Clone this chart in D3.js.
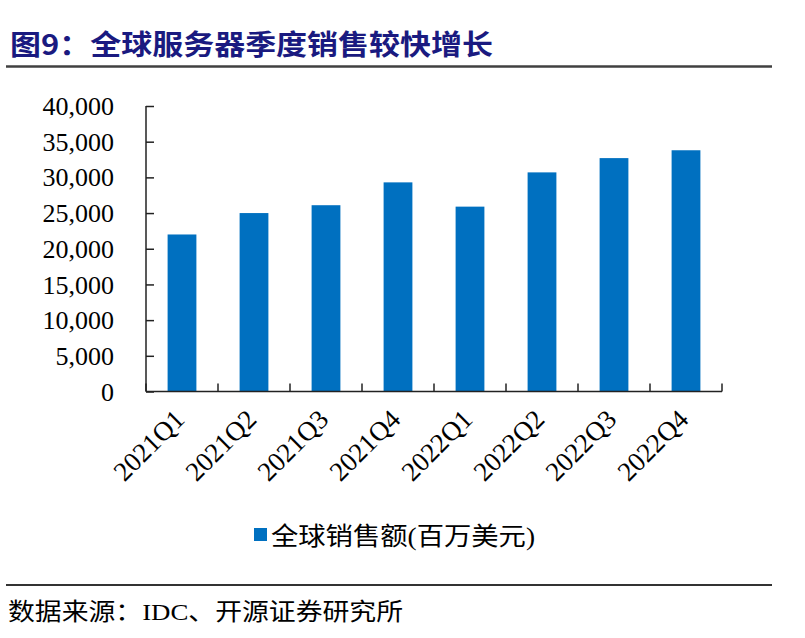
<!DOCTYPE html>
<html><head><meta charset="utf-8">
<script src="https://cdn.jsdelivr.net/npm/d3@7"></script>
<style>body{margin:0;background:#fff}svg{display:block}</style>
</head><body>
<svg id="c" width="805" height="638"></svg>
<script>
const categories = ["2021Q1","2021Q2","2021Q3","2021Q4","2022Q1","2022Q2","2022Q3","2022Q4"];
const values = [22000, 25000, 26100, 29300, 25900, 30700, 32700, 33800];
const yTicks = [0,5000,10000,15000,20000,25000,30000,35000,40000];
const seriesName = "全球销售额(百万美元)";
const titleText = "图9：全球服务器季度销售较快增长";
const sourceText = "数据来源：IDC、开源证券研究所";

const svg = d3.select("#c");
const serif = "'Liberation Serif','Times New Roman',serif";
const cjk = "'Liberation Serif','Noto Sans CJK SC',serif";

// title
svg.append("text").attr("x",10).attr("y",55)
  .attr("font-family","'Noto Sans CJK SC',sans-serif").attr("font-weight","bold")
  .attr("font-size",28).attr("fill","#1a1a80")
  .attr("textLength",483).attr("lengthAdjust","spacingAndGlyphs")
  .text(titleText);
svg.append("line").attr("x1",6).attr("x2",772).attr("y1",66.5).attr("y2",66.5)
  .attr("stroke","#404040").attr("stroke-width",2.5);

const x = d3.scaleBand().domain(categories).range([146,722]).paddingInner(0.6).paddingOuter(0.3);
const y = d3.scaleLinear().domain([0,40000]).range([391.5,106]);

// bars
svg.append("g").selectAll("rect").data(values).join("rect")
  .attr("x",(d,i)=>x(categories[i])).attr("width",x.bandwidth())
  .attr("y",d=>y(d)).attr("height",d=>y(0)-y(d))
  .attr("fill","#0070C0");

// y axis
const yAxis = svg.append("g").attr("transform","translate(146,0)")
  .call(d3.axisRight(y).tickValues(yTicks).tickSize(8).tickFormat(()=>""));
yAxis.select(".domain").attr("stroke","#222").attr("stroke-width",1.5).attr("d","M0,106V391.5");
yAxis.selectAll(".tick line").attr("stroke","#222").attr("stroke-width",1.5);
svg.append("g").selectAll("text").data(yTicks).join("text")
  .attr("x",114).attr("y",d=>y(d)).attr("dy","0.35em")
  .attr("text-anchor","end").attr("font-family",serif).attr("font-size",26).attr("fill","#000")
  .text(d=>d3.format(",")(d));

// x axis
const step = x.step();
const bounds = d3.range(categories.length+1).map(k=>146+k*step);
svg.append("line").attr("x1",146).attr("x2",722).attr("y1",391.5).attr("y2",391.5)
  .attr("stroke","#222").attr("stroke-width",1.5);
svg.append("g").selectAll("line").data(bounds).join("line")
  .attr("x1",d=>d).attr("x2",d=>d).attr("y1",391.5).attr("y2",383.5)
  .attr("stroke","#222").attr("stroke-width",1.5);
svg.append("g").selectAll("text").data(categories).join("text")
  .attr("transform",d=>`translate(${x(d)+x.bandwidth()/2+4},${421}) rotate(-45)`)
  .attr("text-anchor","end").attr("font-family",serif).attr("font-size",27).attr("fill","#000")
  .text(d=>d);

// legend
svg.append("rect").attr("x",254).attr("y",528).attr("width",13).attr("height",13).attr("fill","#0070C0");
svg.append("text").attr("x",271).attr("y",545)
  .attr("font-family",cjk).attr("font-size",25).attr("fill","#000")
  .attr("textLength",264).attr("lengthAdjust","spacingAndGlyphs")
  .text(seriesName);

// footer
svg.append("line").attr("x1",6).attr("x2",772).attr("y1",585).attr("y2",585)
  .attr("stroke","#333").attr("stroke-width",2);
svg.append("text").attr("x",8).attr("y",620)
  .attr("font-family",cjk).attr("font-size",24).attr("fill","#000")
  .attr("textLength",395).attr("lengthAdjust","spacingAndGlyphs")
  .text(sourceText);
</script>
</body></html>
